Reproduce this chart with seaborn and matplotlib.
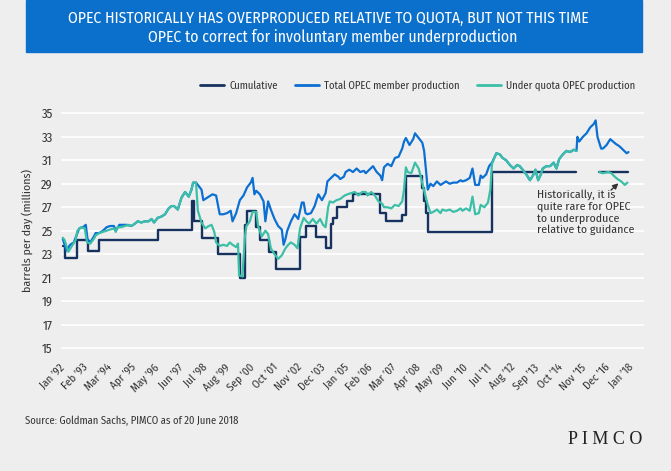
import numpy as np
import pandas as pd
import matplotlib
matplotlib.use("Agg")
import matplotlib.pyplot as plt
from matplotlib.lines import Line2D
from matplotlib.patches import Rectangle
import seaborn as sns

# x values are months counted from Jan 1992
quota_month = [0, 1, 8, 14, 20, 52, 71, 72, 76, 85, 97, 100, 101, 106, 108, 113, 117,
               130, 133, 139, 144, 147, 148, 150, 156, 159, 174, 177, 186, 188, 197,
               198, 199, 200, 235, 281.5, 282, 294, 310]
quota_value = [23.7, 22.7, 24.2, 23.3, 24.2, 25.1, 27.5, 25.8, 24.4, 23.0, 21.0, 25.5,
               26.7, 25.3, 24.2, 23.2, 21.7, 24.5, 25.4, 24.5, 23.5, 25.6, 26.1, 27.0,
               27.5, 28.1, 26.5, 25.8, 26.3, 29.7, 28.6, 27.5, 26.5, 24.9, 30.0, 30.0,
               np.nan, 30.0, 30.0]

total_month = [0, 2, 4, 6, 8, 9, 11, 12.6, 13.5, 15, 17, 18, 20, 22, 24, 26, 28, 29, 31,
               33, 35, 37.6, 39.5, 41, 43, 45, 47, 48.6, 50, 52, 54, 56, 58, 59.5, 61, 63,
               65, 67, 69, 70.5, 71.4, 73, 74, 76, 77, 79, 81, 82, 84, 86, 88, 90, 92, 93,
               95, 97, 99, 101, 103, 104, 105, 106, 108, 110, 111, 112.5, 114, 116, 118,
               120, 121, 122, 123, 125, 127, 129, 131, 132, 133, 134, 136, 138, 140, 142,
               144, 145, 147, 149, 151, 152, 154, 155, 157, 159, 161, 163, 165, 166, 168,
               170, 172, 174, 175, 176, 178, 180, 182, 184, 186, 187, 188, 190, 192, 193,
               195, 197, 198, 199, 200, 201.5, 203, 205, 207, 208, 210, 212, 214, 216, 218,
               219, 221, 223, 224.5, 226, 228, 229, 230, 232, 233.6, 235.2, 237.6, 239.5,
               241, 243, 245, 247, 249, 250.4, 252, 254, 256, 258, 259, 260.5, 262, 263,
               265, 267, 269, 270.5, 272, 274, 276, 278, 280, 281.5, 282, 283, 285, 287,
               289, 291, 292, 293, 295, 296, 298, 300, 301.5, 303, 305, 307, 309, 310]
total_value = [24.3, 23.3, 23.8, 24.0, 24.8, 25.2, 25.3, 25.5, 24.3, 24.0, 24.5, 24.8, 24.8,
               25.0, 25.3, 25.4, 25.4, 25.0, 25.5, 25.5, 25.5, 25.4, 25.6, 25.8, 25.7, 25.8,
               25.8, 26.0, 25.7, 26.1, 26.2, 26.4, 26.9, 27.1, 27.1, 26.8, 27.8, 28.3, 27.9,
               28.5, 29.1, 29.1, 28.9, 28.5, 27.6, 27.8, 28.0, 28.1, 28.0, 26.4, 26.4, 26.5,
               26.7, 25.8, 26.5, 27.6, 28.0, 28.7, 29.1, 29.5, 28.1, 28.4, 28.1, 27.5, 25.8,
               27.5, 26.8, 26.0, 25.4, 25.1, 23.8, 24.3, 25.0, 25.8, 26.4, 26.0, 27.4, 27.4,
               26.5, 26.4, 26.5, 27.1, 28.1, 27.6, 28.2, 29.2, 29.5, 29.8, 29.6, 29.4, 29.6,
               30.0, 30.2, 30.0, 30.3, 30.0, 30.1, 29.9, 30.2, 30.5, 30.0, 29.7, 29.3, 30.4,
               30.7, 30.5, 31.2, 31.3, 32.0, 32.6, 32.9, 32.3, 32.8, 33.3, 32.9, 32.5, 31.8,
               30.2, 28.5, 29.0, 28.8, 29.2, 28.9, 29.0, 29.2, 29.0, 29.1, 29.1, 29.3, 29.2,
               29.3, 29.5, 30.3, 28.9, 28.9, 29.7, 29.5, 29.8, 30.5, 30.8, 31.6, 31.5, 31.2,
               31.0, 30.6, 30.3, 30.6, 30.5, 30.2, 29.8, 29.3, 29.8, 30.2, 29.3, 29.8, 30.3,
               30.5, 30.5, 30.8, 30.3, 31.1, 31.5, 31.8, 31.7, 31.9, 31.8, 33.0, 32.6, 33.0,
               33.3, 33.8, 34.1, 34.4, 33.0, 32.0, 32.0, 32.3, 32.8, 32.6, 32.4, 32.2, 31.9,
               31.6, 31.7]

under_month = [0, 1, 3, 5, 7, 8, 10, 12, 13.3, 15, 17, 18, 20, 22, 24, 26, 28, 29, 30, 32,
               34, 36, 37.6, 39.5, 41, 43, 45, 47, 48.6, 50, 52, 54, 56, 58, 59.5, 61, 63,
               65, 67, 69, 70.5, 71.4, 73, 74, 76, 78, 80, 81.5, 83, 84, 86, 88, 90, 91.5,
               93, 95, 96, 96.6, 98.4, 99.8, 100.6, 102.5, 104, 106, 107, 109, 111, 112.5,
               114, 116, 118, 120, 122, 123.5, 125, 127, 128.6, 130, 132, 133.5, 135, 137,
               139, 141, 142.6, 144, 145.4, 146.3, 148, 150, 152, 153.6, 154.5, 156, 158,
               160, 162, 164, 166, 167, 169, 171, 173, 175, 176, 178, 180, 182, 184, 186,
               187, 188, 189, 191, 193, 195, 196, 197.4, 199, 200, 201.5, 203, 205, 207,
               208, 210, 212, 214, 216, 218, 219, 221, 223, 224.5, 226, 228, 229, 231, 233,
               234.3, 235.2, 237.6, 239.5, 241, 243, 245, 247, 249, 250.4, 252, 254, 256,
               258, 259, 260.5, 262, 263, 265, 267, 269, 270.5, 272, 274, 276, 278, 280,
               281.5, 282, 294, 296, 299, 300.6, 302.5, 304, 306, 308, 309.4]
under_value = [24.4, 24.2, 23.2, 23.7, 24.2, 25.0, 25.3, 25.2, 24.0, 23.9, 24.3, 24.6, 24.8,
               24.9, 25.0, 25.1, 25.2, 24.9, 25.3, 25.3, 25.4, 25.5, 25.4, 25.6, 25.8, 25.7,
               25.8, 25.8, 26.0, 25.7, 26.1, 26.2, 26.4, 26.9, 27.1, 27.1, 26.8, 27.8, 28.3,
               27.9, 28.5, 29.1, 29.1, 26.7, 25.7, 25.2, 25.4, 25.5, 24.9, 24.0, 23.7, 23.8,
               23.7, 24.0, 23.8, 23.6, 23.9, 21.2, 21.1, 24.5, 25.4, 25.8, 26.6, 26.6, 25.4,
               24.5, 25.0, 24.7, 23.5, 23.0, 22.6, 22.9, 23.5, 23.8, 24.0, 23.8, 23.5, 25.2,
               26.1, 25.8, 25.6, 26.0, 25.6, 26.0, 25.5, 25.3, 27.0, 27.5, 27.4, 27.6, 27.7,
               27.9, 28.0, 28.1, 28.2, 28.3, 28.0, 28.3, 28.3, 28.0, 28.3, 28.0, 27.5, 27.3,
               27.0, 27.0, 26.9, 27.2, 27.1, 27.5, 28.5, 30.4, 30.0, 29.9, 30.8, 30.3, 29.7,
               28.8, 27.8, 27.2, 26.5, 26.6, 26.8, 26.5, 26.8, 26.7, 26.8, 26.6, 26.7, 26.9,
               26.7, 26.9, 26.7, 27.9, 26.4, 26.5, 27.2, 27.0, 27.4, 28.5, 30.7, 31.6, 31.5,
               31.2, 31.0, 30.6, 30.3, 30.6, 30.5, 30.2, 29.8, 29.3, 29.8, 30.2, 29.3, 29.8,
               30.3, 30.5, 30.5, 30.8, 30.3, 31.1, 31.5, 31.8, 31.7, 31.9, 31.8, np.nan, 30.0,
               29.9, 30.0, 29.9, 29.6, 29.4, 29.2, 28.9, 29.1]

tick_labels = ["Jan \u201992", "Feb \u201993", "Mar \u201994", "Apr \u201995", "May \u201996",
               "Jun \u201997", "Jul \u201998", "Aug \u201999", "Sep \u201900", "Oct \u201901",
               "Nov \u201902", "Dec \u201903", "Jan \u201905", "Feb \u201906", "Mar \u201907",
               "Apr \u201908", "May \u201909", "Jun \u201910", "Jul \u201911", "Aug \u201912",
               "Sep \u201913", "Oct \u201914", "Nov \u201915", "Dec \u201916", "Jan \u201918"]
tick_month = [13 * i for i in range(len(tick_labels))]

NAVY = "#17325f"
BLUE = "#0c6fd2"
TEAL = "#3bbfa7"
BG = "#eeeeee"
TXT = "#333333"

sns.set_style("white")
plt.rcParams["font.family"] = ["Fira Sans Condensed", "Roboto Condensed", "DejaVu Sans"]


def segments(months, values):
    # split a series into pieces wherever there is a gap (NaN)
    df = pd.DataFrame({"month": months, "value": values})
    df["seg"] = df["value"].isna().cumsum()
    return df.dropna()


fig = plt.figure(figsize=(6.71, 4.71), dpi=100, facecolor=BG)
ax = fig.add_axes([61 / 671, 1 - 350.4 / 471, 583 / 671, (350.4 - 111) / 471])
ax.set_facecolor(BG)

sns.lineplot(data=segments(quota_month, quota_value), x="month", y="value", units="seg",
             estimator=None, color=NAVY, lw=1.7, drawstyle="steps-post", ax=ax, legend=False)
sns.lineplot(data=segments(total_month, total_value), x="month", y="value", units="seg",
             estimator=None, color=BLUE, lw=1.6, ax=ax, legend=False)
sns.lineplot(data=segments(under_month, under_value), x="month", y="value", units="seg",
             estimator=None, color=TEAL, lw=1.6, ax=ax, legend=False)

ax.set_xlim(-1, 318.5)
ax.set_ylim(14.8, 35.2)
ax.set_yticks(range(15, 36, 2))
ax.yaxis.grid(True, color="white", lw=1.2)
ax.xaxis.grid(False)
ax.set_axisbelow(True)
for s in ax.spines.values():
    s.set_visible(False)
ax.set_xlabel("")
ax.set_ylabel("")
ax.tick_params(axis="y", length=0, pad=6, labelsize=9, labelcolor=TXT)
ax.set_xticks(tick_month)
ax.set_xticklabels(tick_labels, rotation=45, ha="right", va="center",
                   rotation_mode="anchor", fontsize=8, color=TXT)
ax.tick_params(axis="x", length=0, pad=11)

fig.text(27 / 671, 1 - 230 / 471, "barrels per day (millions)", rotation=90,
         ha="center", va="center", fontsize=8.5, color=TXT)

ax.annotate("", xy=(305.6, 29.2), xytext=(299.3, 28.3),
            arrowprops=dict(arrowstyle="-|>", color=TXT, lw=1, mutation_scale=8))
ax.text(259.7, 28.55, "Historically, it is\nquite rare for OPEC\nto underproduce\nrelative to guidance",
        ha="left", va="top", fontsize=8.5, color=TXT, linespacing=1.15)

# title banner
fig.patches.append(Rectangle((26 / 671, 1 - 52 / 471), 616 / 671, 52 / 471,
                             transform=fig.transFigure, color="#0b70cc", zorder=0))
fig.text(328 / 671, 1 - 18 / 471, "OPEC HISTORICALLY HAS OVERPRODUCED RELATIVE TO QUOTA, BUT NOT THIS TIME",
         ha="center", va="center", color="white", fontsize=11.3)
fig.text(333 / 671, 1 - 36.5 / 471, "OPEC to correct for involuntary member underproduction",
         ha="center", va="center", color="white", fontsize=11.3)

handles = [Line2D([], [], color=NAVY, lw=2), Line2D([], [], color=BLUE, lw=2),
           Line2D([], [], color=TEAL, lw=2)]
fig.legend(handles, ["Cumulative", "Total OPEC member production", "Under quota OPEC production"],
           loc="center right", bbox_to_anchor=(645 / 671, 1 - 86 / 471), ncol=3, frameon=False,
           fontsize=7.6, handlelength=2.3, handletextpad=0.5, columnspacing=1.6, labelcolor=TXT)

fig.text(25 / 671, 1 - 421 / 471, "Source: Goldman Sachs, PIMCO as of 20 June 2018",
         ha="left", va="center", fontsize=7.6, color=TXT)
fig.text(642 / 671, 1 - 439 / 471, "P I M C O", ha="right", va="center", fontsize=13,
         family="Liberation Serif", color="#222222")

fig.savefig("out.png", dpi=100, facecolor=BG)
